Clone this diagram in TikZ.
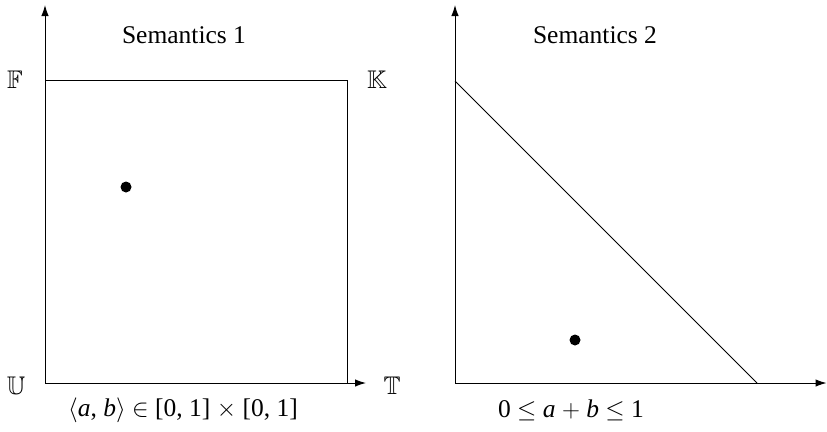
\documentclass[tikz,border=0pt]{standalone}
\usepackage{amssymb}
\usepackage{fontspec}
\setmainfont{Liberation Serif}
\usetikzlibrary{arrows.meta}
\begin{document}
\begin{tikzpicture}[x=1pt,y=-1pt,
  ax/.style={line width=1pt,-{Latex[length=11pt,width=7.5pt]}},
  ln/.style={line width=1pt},
  lbl/.style={inner sep=0pt,font=\fontsize{25.5}{30}\selectfont},
  dot/.style={circle,fill=black,inner sep=0pt,minimum size=11pt}]
\useasboundingbox (0,0) rectangle (827,431);
% left panel
\coordinate (O1) at (45,383);
\coordinate (Y1) at (45,5);
\coordinate (X1) at (366,383);
\coordinate (F1) at (45,80);
\coordinate (K1) at (347,80);
\coordinate (T1) at (347,383);
\draw[ax] (O1) -- (Y1);
\draw[ax] (O1) -- (X1);
\draw[ln] (F1) -- (K1) -- (T1);
\node[lbl] (tF) at (15,80) {$\mathbb{F}$};
\node[lbl] (tK) at (377,80) {$\mathbb{K}$};
\node[lbl] (tU) at (16,386) {$\mathbb{U}$};
\node[lbl] (tT) at (392,386) {$\mathbb{T}$};
\node[dot] (d1) at (126,187) {};
\node[lbl] (s1) at (184,35) {Semantics 1};
\node[lbl] (b1) at (183,410) {$\langle$\textit{a}, \textit{b}$\rangle$ $\in$ [0, 1] $\times$ [0, 1]};
% right panel
\coordinate (O2) at (455,383);
\coordinate (Y2) at (455,5);
\coordinate (X2) at (826.5,383);
\coordinate (A2) at (455,81);
\coordinate (B2) at (757,383);
\draw[ax] (O2) -- (Y2);
\draw[ax] (O2) -- (X2);
\draw[ln] (A2) -- (B2);
\node[dot] (d2) at (575,340) {};
\node[lbl] (s2) at (595,35) {Semantics 2};
\node[lbl] (b2) at (571,410) {0 $\leq$ \textit{a} $+$ \textit{b} $\leq$ 1};
\end{tikzpicture}
\end{document}
